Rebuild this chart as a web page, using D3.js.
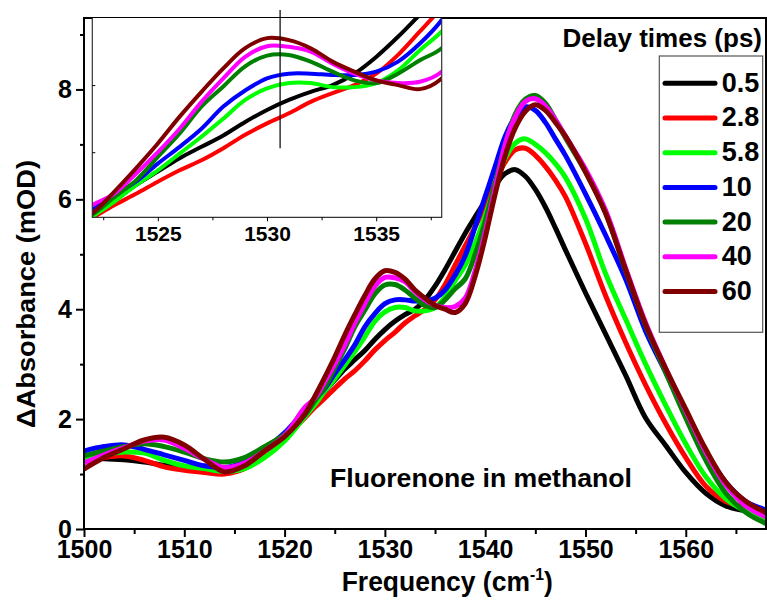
<!DOCTYPE html>
<html>
<head>
<meta charset="utf-8">
<script src="https://cdn.jsdelivr.net/npm/d3@7"></script>
<style>
  body { margin: 0; background: white; }
  text { font-family: "Liberation Sans", Arial, sans-serif; font-weight: bold; }
</style>
</head>
<body>
<script>
// frequency grid (cm-1) shared by all delay-time spectra
var freq = [1500,1502,1504,1506,1508,1510,1512,1514,1516,1518,1520,
  1522,1523,1524,1525,1526,1527,1528,1529,1530,1531,1532,1533,1534,1535,1536,1537,1538,
  1539,1540,1541,1542,1543,1544,1545,1546,1547,1548,
  1550,1552,1554,1556,1558,1560,1562,1564,1566,1568];

var delays = ["0.5", "2.8", "5.8", "10", "20", "40", "60"];
var colors = ["#000000", "#ff0000", "#00ff00", "#0000ff", "#008000", "#ff00ff", "#800000"];

var d05 = [1.28,1.28,1.26,1.22,1.16,1.10,1.05,1.02,1.10,1.35,1.65,
  2.05,2.28,2.51,2.71,2.91,3.08,3.25,3.45,3.63,3.78,3.90,4.00,4.17,4.42,4.72,5.05,5.38,
  5.68,5.97,6.25,6.47,6.54,6.42,6.18,5.86,5.48,5.08,
  4.30,3.55,2.80,2.02,1.52,1.03,0.65,0.42,0.33,0.27];
var d28 = [1.22,1.30,1.33,1.25,1.13,1.07,1.03,1.00,1.10,1.35,1.65,
  2.02,2.21,2.38,2.56,2.73,2.88,3.06,3.26,3.43,3.58,3.75,3.88,4.00,4.17,4.45,4.80,5.15,
  5.50,5.88,6.30,6.68,6.90,6.93,6.80,6.60,6.35,6.05,
  5.20,4.25,3.40,2.62,1.92,1.30,0.78,0.50,0.40,0.35];
var d58 = [1.30,1.35,1.40,1.38,1.25,1.15,1.10,1.05,1.10,1.30,1.60,
  2.04,2.26,2.51,2.73,2.98,3.23,3.50,3.78,3.95,4.03,4.03,3.97,3.97,4.03,4.22,4.52,4.80,
  5.20,5.70,6.25,6.75,7.02,7.10,7.00,6.85,6.65,6.40,
  5.65,4.65,3.82,3.00,2.25,1.55,0.95,0.55,0.32,0.18];
var d10 = [1.42,1.50,1.53,1.45,1.35,1.25,1.15,1.12,1.22,1.45,1.75,
  2.16,2.36,2.56,2.83,3.08,3.35,3.68,3.92,4.10,4.17,4.17,4.15,4.15,4.20,4.35,4.62,4.97,
  5.50,6.05,6.60,7.15,7.50,7.68,7.62,7.40,7.10,6.80,
  6.10,5.35,4.55,3.60,2.85,2.10,1.40,0.85,0.50,0.35];
var d20 = [1.33,1.42,1.50,1.55,1.50,1.40,1.28,1.22,1.30,1.50,1.72,
  2.07,2.33,2.58,2.93,3.28,3.68,3.98,4.28,4.44,4.45,4.35,4.20,4.07,4.03,4.17,4.37,4.55,
  5.00,5.60,6.30,7.00,7.55,7.82,7.89,7.75,7.45,7.12,
  6.50,5.75,4.70,3.70,2.85,2.02,1.25,0.65,0.30,0.10];
var d40 = [1.20,1.35,1.48,1.60,1.62,1.47,1.27,1.12,1.20,1.42,1.70,
  2.21,2.38,2.68,3.00,3.35,3.75,4.10,4.42,4.58,4.57,4.50,4.32,4.17,4.07,4.03,4.05,4.20,
  4.70,5.40,6.20,7.00,7.50,7.78,7.83,7.70,7.45,7.15,
  6.55,5.80,4.75,3.75,2.92,2.15,1.40,0.80,0.42,0.22];
var d60 = [1.09,1.30,1.46,1.62,1.67,1.53,1.27,1.04,1.15,1.42,1.68,
  2.09,2.41,2.76,3.13,3.53,3.90,4.25,4.55,4.70,4.67,4.55,4.35,4.20,4.07,4.00,3.94,4.10,
  4.60,5.30,6.10,6.80,7.30,7.60,7.72,7.62,7.40,7.15,
  6.50,5.75,4.72,3.72,2.92,2.18,1.45,0.85,0.50,0.30];

var seriesValues = [d05, d28, d58, d10, d20, d40, d60];

var xTicks = [1500, 1510, 1520, 1530, 1540, 1550, 1560];
var xMinor = [1505, 1515, 1525, 1535, 1545, 1555, 1565];
var yTicks = [0, 2, 4, 6, 8];
var yMinor = [1, 3, 5, 7, 9];
var insetTicks = [1525, 1530, 1535];
var insetMinor = [1522.5, 1527.5, 1532.5, 1537.5];
var insetYTicks = [3, 4];
var markerFreq = 1530.6, markerRange = [3.06, 5.12];

var W = 767, H = 601;
var svg = d3.select("body").append("svg")
  .attr("width", W).attr("height", H)
  .style("background-color", "white");

var plot = {left: 84, right: 766, top: 18, bottom: 529};

var x = d3.scaleLinear().domain([1500, 1568]).range([plot.left, plot.right]);
var y = d3.scaleLinear().domain([0, 9.3]).range([plot.bottom, plot.top]);

var series = delays.map(function(d, i) {
  return {name: d, color: colors[i],
    values: freq.map(function(f, j) { return {f: f, v: seriesValues[i][j]}; })};
});

svg.append("clipPath").attr("id", "clipMain")
  .append("rect").attr("x", plot.left).attr("y", plot.top)
  .attr("width", plot.right - plot.left).attr("height", plot.bottom - plot.top);

var line = d3.line()
  .x(function(d) { return x(d.f); })
  .y(function(d) { return y(d.v); })
  .curve(d3.curveCatmullRom.alpha(0.5));

svg.append("g").attr("clip-path", "url(#clipMain)")
  .selectAll("path").data(series).enter().append("path")
  .attr("d", function(d) { return line(d.values); })
  .attr("fill", "none")
  .attr("stroke", function(d) { return d.color; })
  .attr("stroke-width", 5)
  .attr("stroke-linejoin", "round");

// frame
svg.append("rect")
  .attr("x", plot.left).attr("y", plot.top)
  .attr("width", plot.right - plot.left).attr("height", plot.bottom - plot.top)
  .attr("fill", "none").attr("stroke", "black").attr("stroke-width", 2);

// axes
var xAxis = svg.append("g").attr("transform", "translate(0," + plot.bottom + ")")
  .call(d3.axisBottom(x).tickValues(xTicks).tickFormat(d3.format("d"))
    .tickSize(8).tickSizeOuter(0).tickPadding(3));
svg.append("g").attr("transform", "translate(0," + plot.bottom + ")")
  .call(d3.axisBottom(x).tickValues(xMinor).tickFormat("").tickSize(5).tickSizeOuter(0));
var yAxis = svg.append("g").attr("transform", "translate(" + plot.left + ",0)")
  .call(d3.axisLeft(y).tickValues(yTicks).tickFormat(d3.format("d"))
    .tickSize(8).tickSizeOuter(0).tickPadding(4));
svg.append("g").attr("transform", "translate(" + plot.left + ",0)")
  .call(d3.axisLeft(y).tickValues(yMinor).tickFormat("").tickSize(4).tickSizeOuter(0));

svg.selectAll(".domain").remove();
svg.selectAll(".tick line").attr("stroke", "black").attr("stroke-width", 2);
xAxis.selectAll("text").attr("font-size", 25).attr("fill", "black").attr("font-family", null);
yAxis.selectAll("text").attr("font-size", 25).attr("fill", "black").attr("font-family", null);

// axis titles
svg.append("text")
  .attr("x", 341.7).attr("y", 591)
  .attr("font-size", 27)
  .attr("textLength", 211).attr("lengthAdjust", "spacingAndGlyphs")
  .html('Frequency (cm<tspan dy="-11" font-size="16">-1</tspan><tspan dy="11">)</tspan>');

svg.append("text")
  .attr("transform", "translate(34.5,428) rotate(-90)")
  .attr("font-size", 25)
  .attr("textLength", 268).attr("lengthAdjust", "spacingAndGlyphs")
  .text("\u0394Absorbance (mOD)");

svg.append("text")
  .attr("x", 330).attr("y", 486.7)
  .attr("font-size", 26)
  .attr("textLength", 302).attr("lengthAdjust", "spacingAndGlyphs")
  .text("Fluorenone in methanol");

// inset
var inset = {left: 92.3, right: 441.7, top: 18, bottom: 217.3};
var xi = d3.scaleLinear().domain([1522, 1538]).range([inset.left, inset.right]);
var yi = d3.scaleLinear().domain([2.03, 5.0]).range([inset.bottom, inset.top]);

svg.append("rect")
  .attr("x", inset.left).attr("y", inset.top)
  .attr("width", inset.right - inset.left).attr("height", inset.bottom - inset.top)
  .attr("fill", "white");

svg.append("clipPath").attr("id", "clipInset")
  .append("rect").attr("x", inset.left).attr("y", inset.top)
  .attr("width", inset.right - inset.left).attr("height", inset.bottom - inset.top);

var lineInset = d3.line()
  .x(function(d) { return xi(d.f); })
  .y(function(d) { return yi(d.v); })
  .curve(d3.curveCatmullRom.alpha(0.5));

svg.append("g").attr("clip-path", "url(#clipInset)")
  .selectAll("path").data(series).enter().append("path")
  .attr("d", function(d) { return lineInset(d.values); })
  .attr("fill", "none")
  .attr("stroke", function(d) { return d.color; })
  .attr("stroke-width", 4)
  .attr("stroke-linejoin", "round");

svg.append("path")
  .attr("d", "M" + inset.left + "," + inset.top + "V" + inset.bottom + "H" + inset.right + "V" + inset.top)
  .attr("fill", "none").attr("stroke", "#333").attr("stroke-width", 1.2);

var ix = svg.append("g").attr("transform", "translate(0," + inset.bottom + ")")
  .call(d3.axisBottom(xi).tickValues(insetTicks).tickFormat(d3.format("d"))
    .tickSize(4).tickSizeOuter(0).tickPadding(5));
svg.append("g").attr("transform", "translate(0," + inset.bottom + ")")
  .call(d3.axisBottom(xi).tickValues(insetMinor).tickFormat("").tickSize(3).tickSizeOuter(0));
svg.append("g").attr("transform", "translate(" + inset.left + ",0)")
  .call(d3.axisLeft(yi).tickValues(insetYTicks).tickFormat("").tickSize(-3).tickSizeOuter(0));
svg.selectAll(".domain").remove();
ix.selectAll("text").attr("font-size", 21).attr("fill", "black").attr("font-family", null);

// marker line in inset
svg.append("line")
  .attr("x1", xi(markerFreq)).attr("x2", xi(markerFreq))
  .attr("y1", yi(markerRange[1])).attr("y2", yi(markerRange[0]))
  .attr("stroke", "black").attr("stroke-width", 1.2);

// legend
svg.append("text")
  .attr("x", 762).attr("y", 46.7)
  .attr("text-anchor", "end")
  .attr("font-size", 26)
  .text("Delay times (ps)");

svg.append("rect")
  .attr("x", 659.3).attr("y", 56)
  .attr("width", 103.4).attr("height", 276.3)
  .attr("fill", "white").attr("stroke", "#555").attr("stroke-width", 1.2);

var legend = svg.append("g").selectAll("g").data(series).enter().append("g")
  .attr("transform", function(d, i) { return "translate(0," + (83.3 + i * 34.7) + ")"; });
legend.append("line")
  .attr("x1", 665).attr("x2", 715)
  .attr("stroke", function(d) { return d.color; })
  .attr("stroke-width", 5).attr("stroke-linecap", "round");
legend.append("text")
  .attr("x", 721.7).attr("y", 8.4)
  .attr("font-size", 27)
  .text(function(d) { return d.name; });
</script>
</body>
</html>
